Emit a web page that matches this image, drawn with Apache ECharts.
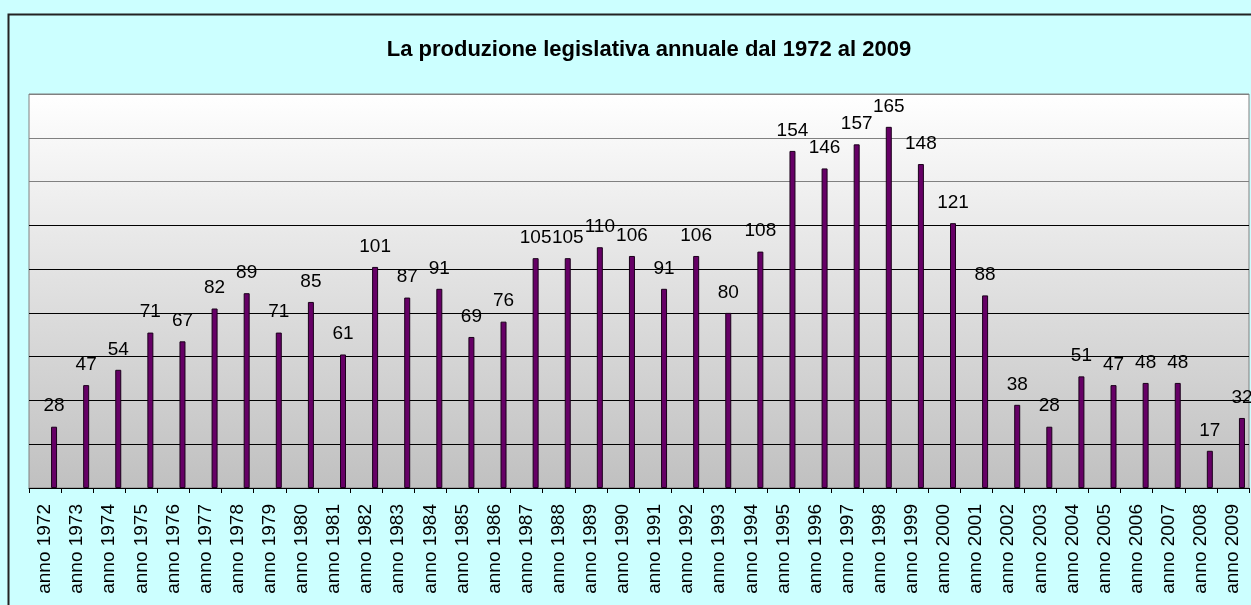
<!DOCTYPE html>
<html>
<head>
<meta charset="utf-8">
<script src="https://cdn.jsdelivr.net/npm/echarts@6/dist/echarts.min.js"></script>
<style>
html,body{margin:0;padding:0;background:#ccffff;}
#chart{width:1251px;height:605px;}
</style>
</head>
<body>
<div id="chart"></div>
<script>
var titleText = 'La produzione legislativa annuale dal 1972 al 2009';
var categories = ['anno 1972','anno 1973','anno 1974','anno 1975','anno 1976','anno 1977','anno 1978','anno 1979','anno 1980','anno 1981','anno 1982','anno 1983','anno 1984','anno 1985','anno 1986','anno 1987','anno 1988','anno 1989','anno 1990','anno 1991','anno 1992','anno 1993','anno 1994','anno 1995','anno 1996','anno 1997','anno 1998','anno 1999','anno 2000','anno 2001','anno 2002','anno 2003','anno 2004','anno 2005','anno 2006','anno 2007','anno 2008','anno 2009'];
var leggi = [28,47,54,71,67,82,89,71,85,61,101,87,91,69,76,105,105,110,106,91,106,80,108,154,146,157,165,148,121,88,38,28,51,47,48,48,17,32];
var placeholder = categories.map(function(){ return null; });

var chart = echarts.init(document.getElementById('chart'));
chart.setOption({
  backgroundColor: '#ccffff',
  animation: false,
  graphic: [
    {type:'rect', shape:{x:8.5, y:14.5, width:1320, height:700}, style:{fill:'none', stroke:'#222', lineWidth:2}, z:0},
    {type:'text', x:649, y:50, style:{text:titleText, fill:'#000', font:'bold 22px "Liberation Sans", Arial, sans-serif', textAlign:'center', textVerticalAlign:'middle'}, z:10}
  ],
  grid: {
    left: 29, top: 94, width: 1220, height: 394,
    show: true,
    borderColor: '#808080', borderWidth: 1,
    backgroundColor: {type:'linear', x:0, y:0, x2:0, y2:1, colorStops:[{offset:0, color:'#ffffff'},{offset:1, color:'#c0c0c0'}]}
  },
  xAxis: {
    type: 'category',
    data: categories,
    axisLine: {show:true, lineStyle:{color:'#000', width:1}},
    axisTick: {show:true, interval:0, length:5, lineStyle:{color:'#000'}},
    axisLabel: {interval:0, rotate:90, margin:16, color:'#000', fontSize:19, fontFamily:'"Liberation Sans", Arial, sans-serif'}
  },
  yAxis: {
    type: 'value', min: 0, max: 180, interval: 20,
    axisLine: {show:false}, axisTick: {show:false}, axisLabel: {show:false},
    splitLine: {show:true, lineStyle:{color:['#000','#000','#000','#000','#000','#000','#000','#808080','#808080','#808080'], width:1}}
  },
  series: [
    {type:'bar', data: placeholder, barWidth:6, barGap:'200%', silent:true},
    {type:'bar', data: leggi, barWidth:6, barGap:'200%',
     itemStyle:{color:'#660066', borderColor:'#1a001a', borderWidth:1},
     label:{show:true, position:'top', distance:11, color:'#000', fontSize:19, fontFamily:'"Liberation Sans", Arial, sans-serif'}}
  ]
});
</script>
</body>
</html>
